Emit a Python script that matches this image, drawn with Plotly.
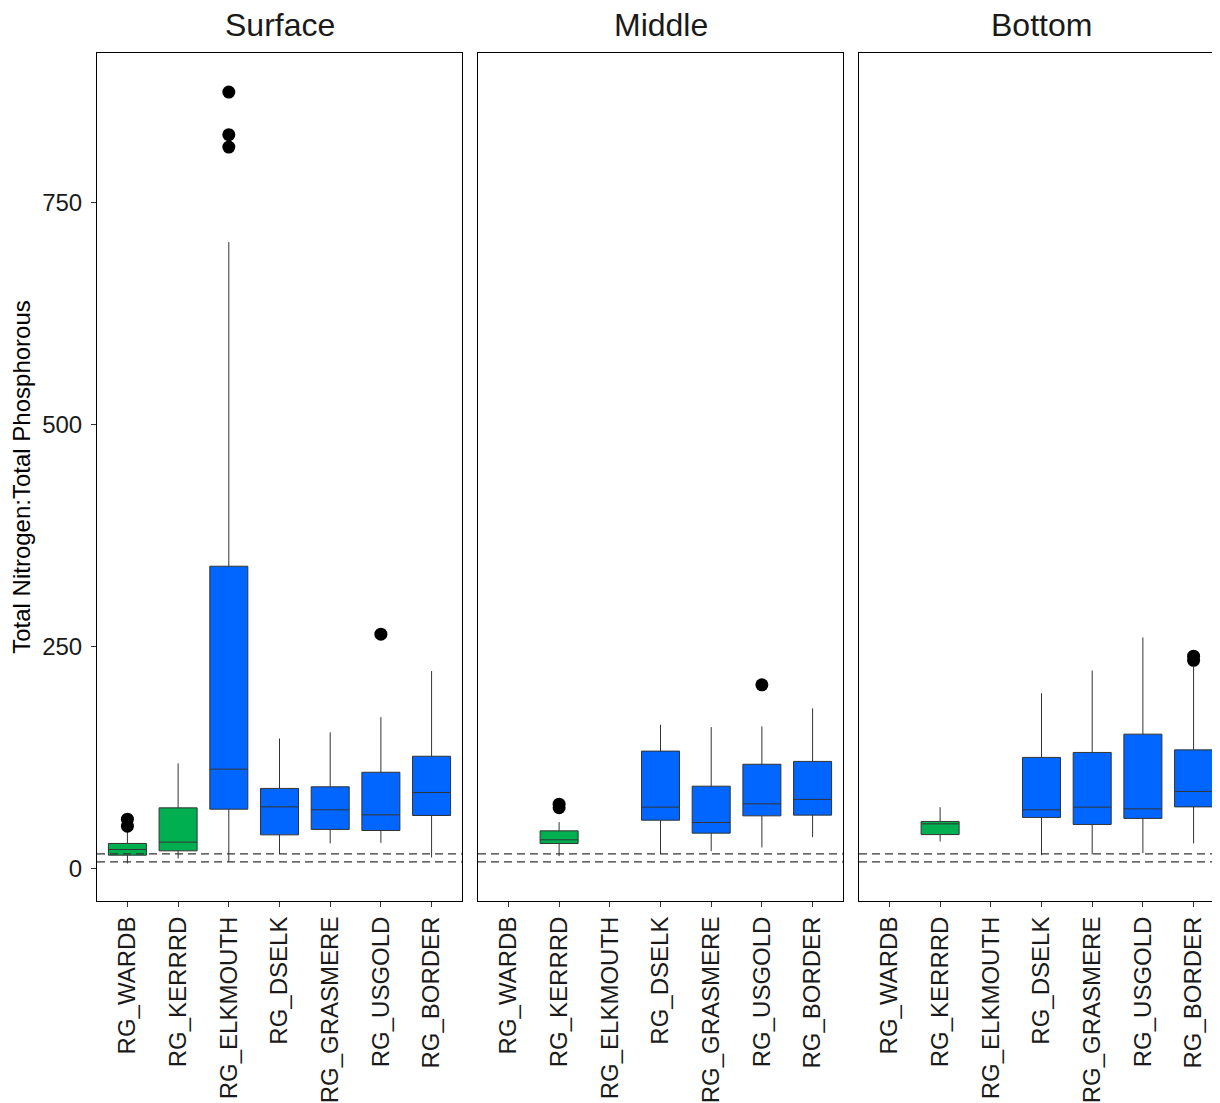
import plotly.graph_objects as go
from plotly.subplots import make_subplots

categories = ["RG_WARDB", "RG_KERRRD", "RG_ELKMOUTH", "RG_DSELK", "RG_GRASMERE", "RG_USGOLD", "RG_BORDER"]
panels = ["Surface", "Middle", "Bottom"]

# Surface
surface_cats = ["RG_WARDB", "RG_KERRRD", "RG_ELKMOUTH", "RG_DSELK", "RG_GRASMERE", "RG_USGOLD", "RG_BORDER"]
surface_group = ["green", "green", "blue", "blue", "blue", "blue", "blue"]
surface_lo = [5.3, 10.9, 7.1, 15.8, 27.8, 28.5, 12.0]
surface_q1 = [14.6, 19.5, 66.4, 37.5, 43.6, 42.4, 59.3]
surface_med = [21.0, 29.3, 111.5, 69.0, 65.7, 60.0, 85.2]
surface_q3 = [27.8, 67.9, 340.0, 89.8, 91.6, 108.0, 126.0]
surface_hi = [41.7, 118.0, 705.0, 146.0, 153.0, 170.0, 222.0]
surface_out_x = ["RG_WARDB", "RG_WARDB", "RG_ELKMOUTH", "RG_ELKMOUTH", "RG_ELKMOUTH", "RG_USGOLD"]
surface_out_y = [55.2, 47.3, 874.0, 826.0, 812.0, 263.5]

# Middle
middle_cats = ["RG_KERRRD", "RG_DSELK", "RG_GRASMERE", "RG_USGOLD", "RG_BORDER"]
middle_group = ["green", "blue", "blue", "blue", "blue"]
middle_lo = [13.5, 15.8, 19.1, 23.3, 34.9]
middle_q1 = [27.8, 54.0, 39.4, 58.9, 59.7]
middle_med = [31.9, 68.7, 51.4, 72.4, 77.4]
middle_q3 = [42.0, 131.8, 92.3, 117.0, 120.2]
middle_hi = [51.8, 161.4, 158.8, 159.6, 180.0]
middle_out_x = ["RG_KERRRD", "RG_KERRRD", "RG_USGOLD"]
middle_out_y = [72.0, 68.0, 206.4]

# Bottom
bottom_cats = ["RG_KERRRD", "RG_DSELK", "RG_GRASMERE", "RG_USGOLD", "RG_BORDER"]
bottom_group = ["green", "blue", "blue", "blue", "blue"]
bottom_lo = [30.0, 14.6, 15.4, 16.9, 27.8]
bottom_q1 = [37.8, 57.1, 49.2, 56.0, 69.0]
bottom_med = [49.9, 65.7, 68.7, 66.8, 86.4]
bottom_q3 = [52.6, 124.7, 130.3, 150.9, 133.2]
bottom_hi = [68.7, 197.0, 222.6, 259.8, 227.0]
bottom_out_x = ["RG_BORDER", "RG_BORDER"]
bottom_out_y = [238.7, 234.0]

ref_lines = [16, 7]
y_ticks = [0, 250, 500, 750]

colors = {"green": "#00B050", "blue": "#0066FF"}
FONT = "Arial, Liberation Sans, sans-serif"

fig = make_subplots(rows=1, cols=3, shared_yaxes=True, horizontal_spacing=16 / 1127)

panel_data = [
    (surface_cats, surface_group, surface_lo, surface_q1, surface_med, surface_q3, surface_hi, surface_out_x, surface_out_y),
    (middle_cats, middle_group, middle_lo, middle_q1, middle_med, middle_q3, middle_hi, middle_out_x, middle_out_y),
    (bottom_cats, bottom_group, bottom_lo, bottom_q1, bottom_med, bottom_q3, bottom_hi, bottom_out_x, bottom_out_y),
]

for col, (cats, grp, lo, q1, med, q3, hi, ox, oy) in enumerate(panel_data, start=1):
    for g in ["green", "blue"]:
        idx = [i for i, v in enumerate(grp) if v == g]
        if not idx:
            continue
        fig.add_trace(go.Box(
            x=[cats[i] for i in idx],
            lowerfence=[lo[i] for i in idx],
            q1=[q1[i] for i in idx],
            median=[med[i] for i in idx],
            q3=[q3[i] for i in idx],
            upperfence=[hi[i] for i in idx],
            fillcolor=colors[g],
            line=dict(color="#333333", width=1),
            whiskerwidth=0,
            width=0.75,
            boxpoints=False,
            showlegend=False,
        ), row=1, col=col)
    fig.add_trace(go.Scatter(
        x=ox, y=oy, mode="markers",
        marker=dict(color="black", size=13),
        showlegend=False,
    ), row=1, col=col)

for col in range(1, 4):
    for v in ref_lines:
        fig.add_hline(y=v, line=dict(color="#333333", width=1.2, dash="8px,5px"),
                      row=1, col=col, exclude_empty_subplots=False)

fig.update_xaxes(
    type="category", categoryorder="array", categoryarray=categories,
    tickmode="array", tickvals=categories, ticktext=categories,
    range=[-0.6, 6.6], tickangle=-90,
    ticks="outside", ticklen=5, tickcolor="#333333",
    showline=True, linecolor="black", linewidth=1, mirror=True,
    showgrid=False, zeroline=False,
    tickfont=dict(family=FONT, size=24, color="#1a1a1a"),
)
fig.update_yaxes(
    range=[-37, 918], tickvals=y_ticks,
    ticks="outside", ticklen=5, tickcolor="#333333",
    showline=True, linecolor="black", linewidth=1, mirror=True,
    showgrid=False, zeroline=False,
    tickfont=dict(family=FONT, size=24, color="#1a1a1a"),
)
fig.update_yaxes(ticks="", row=1, col=2)
fig.update_yaxes(ticks="", row=1, col=3)
fig.update_yaxes(
    ticklabelstandoff=4,
    title=dict(text="Total Nitrogen:Total Phosphorous", font=dict(family=FONT, size=24, color="black"), standoff=8),
    row=1, col=1,
)

for i, name in enumerate(panels, start=1):
    xd = fig.layout["xaxis" + ("" if i == 1 else str(i))].domain
    fig.add_annotation(
        text=name, x=(xd[0] + xd[1]) / 2, y=1.033, xref="paper", yref="paper",
        xanchor="center", yanchor="middle", showarrow=False,
        font=dict(family=FONT, size=32, color="#1a1a1a"),
    )

fig.update_layout(
    width=1220, height=1103,
    margin=dict(l=89, r=4, t=45, b=210),
    plot_bgcolor="white", paper_bgcolor="white",
    boxmode="overlay",
    font=dict(family=FONT),
)

fig.write_html("out.html")
